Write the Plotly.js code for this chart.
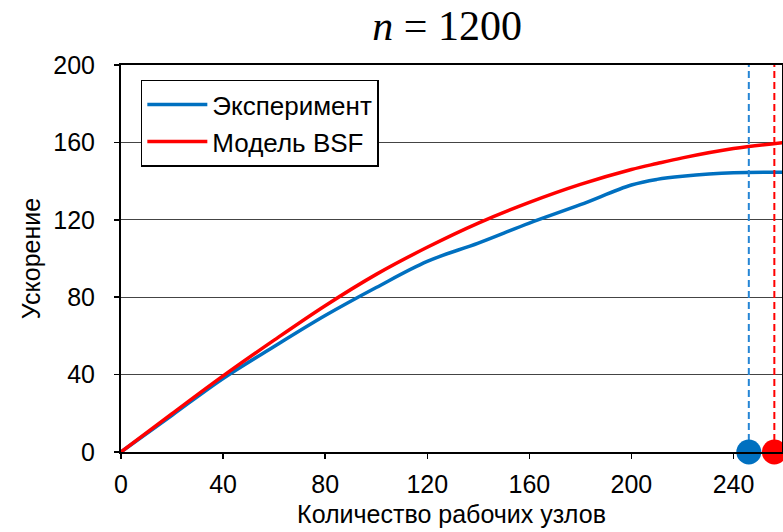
<!DOCTYPE html>
<html>
<head>
<meta charset="utf-8">
<script src="https://cdn.plot.ly/plotly-3.0.1.min.js"></script>
<style>html,body{margin:0;padding:0;background:#fff;}#chart{width:783px;height:532px;}</style>
</head>
<body>
<div id="chart"></div>
<script>
// Data
const nodes = [0, 20, 40, 60, 80, 100, 120, 140, 160, 180, 200, 210, 220, 240, 260];
const experiment = [0, 19, 38, 54.5, 70.5, 85, 98.5, 108, 118.3, 127.8, 138, 140.9, 142.5, 144.3, 144.5];
const model = [0, 19.8, 39.3, 57.8, 75.6, 91.8, 105.8, 118.3, 129, 138.3, 146, 149.1, 152, 156.8, 160];
const seriesNames = ["Эксперимент", "Модель BSF"];
const peakNodes = [246, 256];
const peakLineY = [0, 200];
const xTicks = [0, 40, 80, 120, 160, 200, 240];
const yTicks = [0, 40, 80, 120, 160, 200];
const xTitle = "Количество рабочих узлов";
const yTitle = "Ускорение";
const chartTitle = "<i>n</i> = 1200";

const blue = "#0070C0", red = "#FF0000";
const traces = [
  {x: nodes, y: experiment, name: seriesNames[0], type: "scatter", mode: "lines",
   line: {color: blue, width: 3.5, shape: "spline", smoothing: 1}, legendgroup: "a"},
  {x: nodes, y: model, name: seriesNames[1], type: "scatter", mode: "lines",
   line: {color: red, width: 3.5, shape: "spline", smoothing: 1}, legendgroup: "b"},
  {x: [peakNodes[0], peakNodes[0]], y: peakLineY, type: "scatter", mode: "lines", showlegend: false,
   line: {color: "#2585D5", width: 2, dash: "7px,4px"}, hoverinfo: "skip"},
  {x: [peakNodes[1], peakNodes[1]], y: peakLineY, type: "scatter", mode: "lines", showlegend: false,
   line: {color: red, width: 2, dash: "7px,4px"}, hoverinfo: "skip"},
  {x: [peakNodes[0]], y: [0], type: "scatter", mode: "markers", showlegend: false, cliponaxis: false,
   marker: {color: blue, size: 25}},
  {x: [peakNodes[1]], y: [0], type: "scatter", mode: "markers", showlegend: false, cliponaxis: false,
   marker: {color: red, size: 25}}
];

const tickFont = {family: "Liberation Sans, Arial, sans-serif", size: 25, color: "#000"};
const layout = {
  width: 783, height: 532,
  margin: {l: 121, r: 1, t: 65, b: 80, pad: 0},
  paper_bgcolor: "#fff", plot_bgcolor: "#fff",
  title: {text: chartTitle, font: {family: "Liberation Serif, Times New Roman, serif", size: 42, color: "#000"},
          xref: "container", x: 0.571, xanchor: "center", yref: "container", y: 0.952, yanchor: "middle"},
  xaxis: {range: [0, 259], tickvals: xTicks, ticktext: xTicks.map(String), showgrid: false, zeroline: false,
          showline: true, linecolor: "#000", linewidth: 2, mirror: true,
          ticks: "outside", ticklen: 5, tickwidth: 1.5, tickcolor: "#000",
          tickfont: tickFont, ticklabelstandoff: 4,
          title: {text: xTitle, font: tickFont, standoff: 8}},
  yaxis: {range: [0, 200], tickvals: yTicks, ticktext: yTicks.map(String), showgrid: true, gridcolor: "#444", gridwidth: 1,
          zeroline: false, showline: true, linecolor: "#000", linewidth: 2, mirror: true,
          ticks: "outside", ticklen: 5, tickwidth: 1.5, tickcolor: "#000",
          tickfont: tickFont, ticklabelstandoff: 14,
          title: {text: yTitle, font: tickFont, standoff: 6}},
  legend: {x: 0.03, y: 0.962, xanchor: "left", yanchor: "top", bgcolor: "#fff", bordercolor: "#000", borderwidth: 1.5,
           font: {family: "Liberation Sans, Arial, sans-serif", size: 26, color: "#000"},
           itemwidth: 60, tracegroupgap: 0, traceorder: "grouped"},
  showlegend: true
};
Plotly.newPlot("chart", traces, layout, {displayModeBar: false, staticPlot: true});
</script>
</body>
</html>
